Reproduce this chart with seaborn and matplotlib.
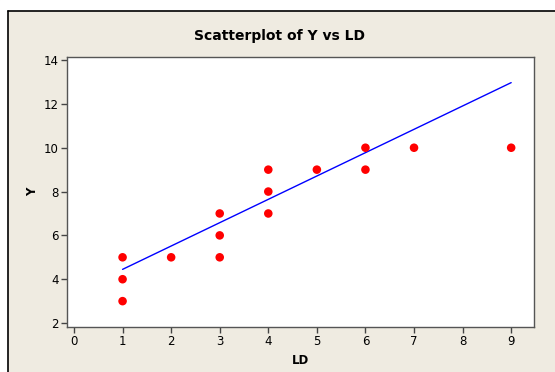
import matplotlib
matplotlib.use("Agg")
import matplotlib.pyplot as plt
import seaborn as sns
import numpy as np
import pandas as pd

# Data
ld = [1, 1, 1, 2, 3, 3, 3, 4, 4, 4, 5, 6, 6, 7, 9]
y = [5, 4, 3, 5, 7, 6, 5, 9, 8, 7, 9, 10, 9, 10, 10]
fit_intercept = 3.385
fit_slope = 1.065
xticks = [0, 1, 2, 3, 4, 5, 6, 7, 8, 9]
yticks = [2, 4, 6, 8, 10, 12, 14]

sns.set_style("white")
plt.rcParams['font.family'] = ['DejaVu Sans']
plt.rcParams['text.color'] = 'black'
plt.rcParams['axes.labelcolor'] = 'black'
plt.rcParams['xtick.color'] = 'black'
plt.rcParams['ytick.color'] = 'black'

bg = "#EFEBE1"
fig = plt.figure(figsize=(5.55, 3.72), dpi=100, facecolor=bg)
W, H = 555, 372
ax = fig.add_axes([67 / W, 1 - 327 / H, (534 - 67) / W, (327 - 57) / H])
ax.set_facecolor("white")

df = pd.DataFrame({"LD": ld, "Y": y})
sns.scatterplot(data=df, x="LD", y="Y", ax=ax, color="#FF0000", s=38,
                edgecolor="none", linewidth=0, zorder=3)

fx = np.array([min(ld), max(ld)])
sns.lineplot(x=fx, y=fit_intercept + fit_slope * fx, ax=ax, color="#0000FF",
             linewidth=1.0, zorder=2)

ax.set_xlim(-0.144, 9.47)
ax.set_ylim(1.82, 14.14)
ax.set_xticks(xticks)
ax.set_yticks(yticks)
ax.tick_params(axis="both", direction="out", length=4, width=1, color="#444444",
               labelsize=8.5, pad=2, left=True, bottom=True, labelcolor="black")
for sp in ax.spines.values():
    sp.set_color("#555555")
    sp.set_linewidth(1.0)

ax.set_xlabel("LD", fontsize=8.5, fontweight="bold", labelpad=4, color="black")
ax.set_ylabel("Y", fontsize=8.5, fontweight="bold", labelpad=3, color="black")
fig.text(280 / W, 1 - 36 / H, "Scatterplot of Y vs LD", ha="center", va="center",
         fontsize=10, fontweight="bold", color="black")

# outer frame lines (left and top)
fig.add_artist(plt.Line2D([7.5 / W, 7.5 / W], [0, 1 - 10.5 / H], color="black", linewidth=1.2,
                          transform=fig.transFigure))
fig.add_artist(plt.Line2D([7.5 / W, 1], [1 - 10.5 / H, 1 - 10.5 / H], color="black", linewidth=1.2,
                          transform=fig.transFigure))
fig.add_artist(plt.Rectangle((0, 1 - 10 / H), 1, 10 / H, color="white",
                             transform=fig.transFigure, zorder=-1))
fig.add_artist(plt.Rectangle((0, 0), 7 / W, 1, color="white",
                             transform=fig.transFigure, zorder=-1))

fig.savefig("out.png", dpi=100, facecolor=bg)
